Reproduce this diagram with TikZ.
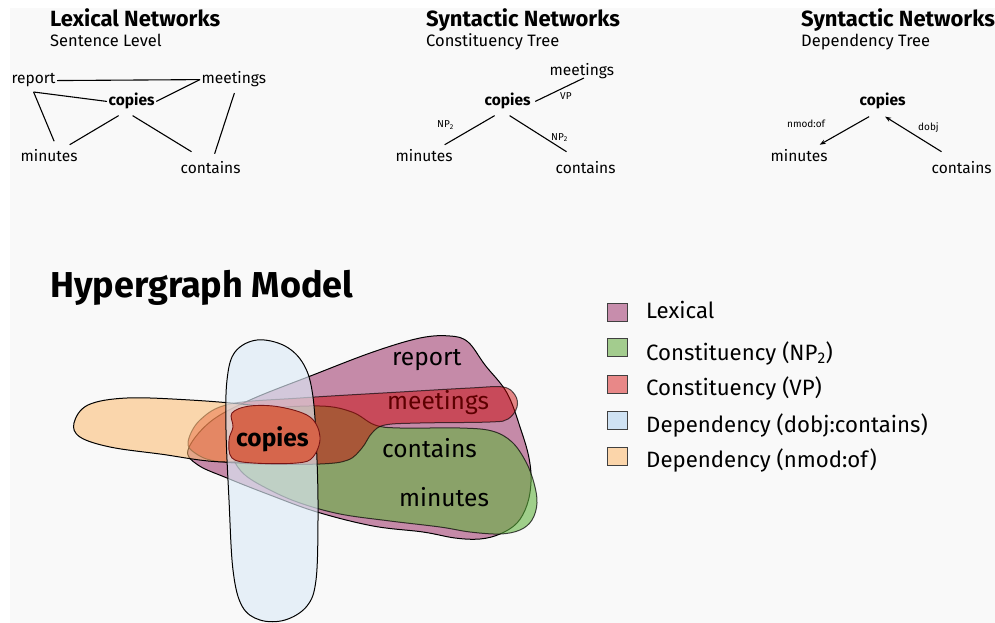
\documentclass[tikz,border=0pt]{standalone}
\usepackage{fontspec}
\setmainfont{Fira Sans}
\usetikzlibrary{calc,arrows.meta}

\definecolor{pagebg}{RGB}{249,249,249}
\definecolor{lexc}{RGB}{197,138,168}
\definecolor{npc}{RGB}{99,179,64}
\definecolor{vpc}{RGB}{204,0,0}
\definecolor{dobjc}{RGB}{220,234,247}
\definecolor{nmodc}{RGB}{252,186,110}
\definecolor{copyc}{RGB}{214,102,76}
\definecolor{copyline}{RGB}{120,20,20}
\definecolor{leglex}{RGB}{199,141,172}
\definecolor{legnp}{RGB}{163,204,142}
\definecolor{legvp}{RGB}{232,136,136}
\definecolor{legdobj}{RGB}{207,226,243}
\definecolor{legnmod}{RGB}{251,213,170}

\begin{document}
\begin{tikzpicture}[x=1pt,y=1pt,
  word/.style={inner sep=1.5pt, anchor=base west, font=\fontsize{15.5}{18}\selectfont},
  wordb/.style={word, font=\fontsize{15.5}{18}\selectfont\bfseries},
  edge/.style={line width=1.1pt, black},
  dep/.style={edge, -{Stealth[length=6pt,width=4.5pt]}},
  tag/.style={inner sep=0pt, anchor=base west, font=\fontsize{10}{12}\selectfont},
  ttl/.style={inner sep=0pt, anchor=base west, font=\fontsize{22}{26}\selectfont\bfseries},
  subttl/.style={inner sep=0pt, anchor=base west, font=\fontsize{16.5}{19}\selectfont},
  hword/.style={inner sep=0pt, anchor=base west, font=\fontsize{24.5}{28}\selectfont},
  hedge/.style={line width=1pt, smooth cycle, tension=0.6},
  legbox/.style={draw=black!75, line width=0.7pt},
  legtxt/.style={inner sep=0pt, anchor=base west, font=\fontsize{22.2}{26}\selectfont},
]
\useasboundingbox (0,0) rectangle (995,-623);
\fill[white] (0,0) rectangle (995,-623);
\fill[pagebg] (10,-8) rectangle (995,-623);

% ---------- Lexical network ----------
\node[ttl] (t1) at (50,-27) {Lexical Networks};
\node[subttl] (s1) at (50,-47) {Sentence Level};
\node[word]  (lr) at (10,-84) {report};
\node[word]  (lm) at (200,-84) {meetings};
\node[wordb] (lc) at (107,-106) {copies};
\node[word]  (lmi) at (19,-161) {minutes};
\node[word]  (lco) at (179,-173) {contains};
\draw[edge] (lr.east) -- (lm.west);
\draw[edge] (lm.west) -- (lc.east);
\draw[edge] ($(lr.south)+(0,-3)$) -- (lc.west);
\draw[edge] ($(lr.south)+(0,-3)$) -- ($(lmi.north)+(5,6)$);
\draw[edge] ($(lc.south)+(-13,-4.5)$) -- ($(lmi.north east)+(-9.5,2.5)$);
\draw[edge] ($(lc.south)+(1,-4.5)$) -- ($(lco.north west)+(12.5,7.5)$);
\draw[edge] ($(lm.south)+(0.5,-4)$) -- ($(lco.north)+(4,5.5)$);

% ---------- Constituency tree ----------
\node[ttl] (t2) at (426,-27) {Syntactic Networks};
\node[subttl] (s2) at (426,-47) {Constituency Tree};
\node[word]  (cm) at (548,-76) {meetings};
\node[wordb] (cc) at (483,-106) {copies};
\node[word]  (cmi) at (394,-161) {minutes};
\node[word]  (cco) at (554,-173) {contains};
\draw[edge] ($(cc.east)+(3,0)$) -- ($(cm.south)+(2,3)$);
\draw[edge] ($(cc.south)+(-13,-4.5)$) -- ($(cmi.north east)+(-9.5,2.5)$);
\draw[edge] ($(cc.south)+(2,-4.5)$) -- ($(cco.north west)+(12.5,7.5)$);
\node[tag] (vp) at (560,-100) {VP};
\node[tag] (np1) at (437,-128) {NP\textsubscript{2}};
\node[tag] (np2) at (551,-140) {NP\textsubscript{2}};

% ---------- Dependency tree ----------
\node[ttl] (t3) at (801,-27) {Syntactic Networks};
\node[subttl] (s3) at (801,-47) {Dependency Tree};
\node[wordb] (dc) at (858,-106) {copies};
\node[word]  (dmi) at (769,-161) {minutes};
\node[word]  (dco) at (930,-173) {contains};
\draw[dep] ($(dc.south)+(-13.5,-5.5)$) -- ($(dmi.north east)+(-9.5,2.5)$);
\draw[dep] ($(dco.north west)+(11.5,7.5)$) -- ($(dc.south)+(2.5,-5.5)$);
\node[tag] (nm) at (787,-128) {nmod:of};
\node[tag] (dj) at (918,-131) {dobj};

% ---------- Hypergraph ----------
\node[inner sep=0pt, anchor=base west, font=\fontsize{36}{41}\selectfont\bfseries] (ht) at (50,-297) {Hypergraph Model};

% lexical hyperedge
\draw[hedge, fill=lexc, draw=black] plot coordinates {
  (188,-450) (210,-422) (250,-400) (313,-375) (373,-352) (420,-338)
  (450,-336) (468,-342) (485,-365) (507,-393) (521,-430) (529,-458)
  (531,-482) (527,-505) (517,-523) (500,-534) (480,-539) (455,-538)
  (423,-532) (373,-526) (317,-512) (270,-495) (227,-478) (198,-465)};
% constituency NP2 hyperedge
\draw[hedge, fill=npc, fill opacity=0.6, draw=black, draw opacity=0.7] plot coordinates {
  (238,-425) (262,-410) (320,-406) (352,-412) (375,-425) (400,-428)
  (460,-428) (492,-431) (512,-442) (526,-462) (534,-483) (537,-503)
  (532,-520) (520,-530) (500,-534) (470,-532) (440,-527) (390,-521)
  (340,-514) (300,-503) (270,-490) (245,-475) (233,-458) (232,-440)};
\node[hword] (hm) at (387,-409) {meetings};
% constituency VP hyperedge
\draw[hedge, fill=vpc, fill opacity=0.46, draw=black, draw opacity=0.65] plot coordinates {
  (188,-442) (200,-420) (230,-404) (300,-398) (400,-392) (470,-388)
  (503,-387) (515,-395) (517,-407) (508,-419) (490,-422) (420,-423)
  (385,-425) (372,-433) (362,-448) (348,-460) (320,-464) (260,-464)
  (215,-461) (195,-453)};
% dependency nmod:of hyperedge
\draw[hedge, fill=nmodc, fill opacity=0.55, draw=black] plot coordinates {
  (74,-423) (88,-405) (127,-398) (190,-400) (250,-405) (295,-412)
  (312,-432) (298,-456) (225,-462) (160,-454) (110,-447) (80,-437)};
% dependency dobj hyperedge
\draw[hedge, fill=dobjc, fill opacity=0.65, draw=black] plot coordinates {
  (257,-340) (285,-346) (304,-365) (313,-397) (317,-460) (318,-520)
  (316,-580) (307,-606) (285,-620) (260,-620) (242,-606) (233,-570)
  (229,-500) (226,-430) (227,-380) (235,-352)};
% shared vertex
\draw[hedge, fill=copyc, draw=copyline, line width=0.9pt] plot coordinates {
  (232,-413) (250,-406) (280,-407) (310,-417) (320,-437) (313,-457)
  (297,-463) (253,-463) (232,-458) (229,-440) (233,-427)};

\node[hword] (hr) at (392,-365) {report};
\node[hword, font=\fontsize{24.5}{28}\selectfont\bfseries] (hc) at (236,-446) {copies};
\node[hword] (hco) at (382,-457) {contains};
\node[hword] (hmi) at (399,-506) {minutes};

% ---------- Legend ----------
\draw[legbox, fill=leglex]  (607,-303) rectangle (627,-321);
\draw[legbox, fill=legnp]   (607,-338) rectangle (627,-356);
\draw[legbox, fill=legvp]   (607,-375) rectangle (627,-393);
\draw[legbox, fill=legdobj] (607,-411) rectangle (627,-429);
\draw[legbox, fill=legnmod] (607,-447) rectangle (627,-465);
\node[legtxt] (g1) at (646,-318) {Lexical};
\node[legtxt] (g2) at (646,-360) {Constituency (NP\textsubscript{2})};
\node[legtxt] (g3) at (646,-395) {Constituency (VP)};
\node[legtxt] (g4) at (646,-432) {Dependency (dobj:contains)};
\node[legtxt] (g5) at (646,-467) {Dependency (nmod:of)};
\end{tikzpicture}
\end{document}
